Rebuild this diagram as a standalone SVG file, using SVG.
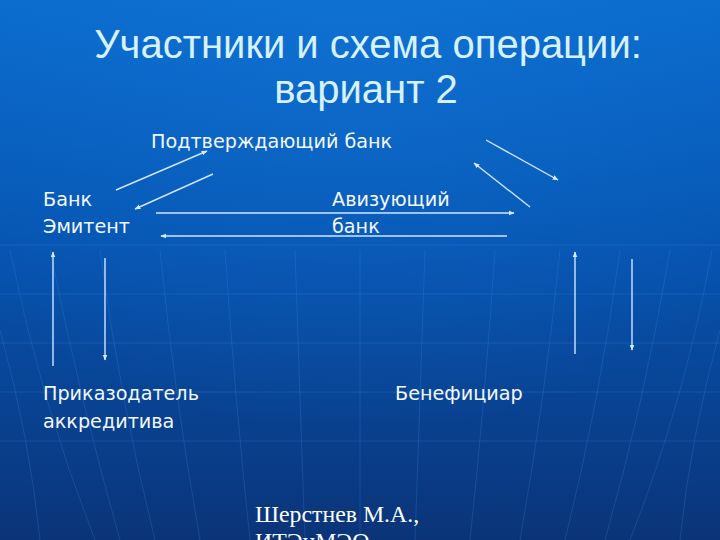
<svg xmlns="http://www.w3.org/2000/svg" width="720" height="540" viewBox="0 0 720 540">
<defs>
<linearGradient id="bg" x1="0" y1="0" x2="0" y2="1">
<stop offset="0" stop-color="#0a6bcd"/>
<stop offset="0.45" stop-color="#0654b1"/>
<stop offset="1" stop-color="#0b3478"/>
</linearGradient>
<radialGradient id="glow" cx="0.5" cy="0.1" r="0.7">
<stop offset="0" stop-color="#1a80e0" stop-opacity="0.3"/>
<stop offset="1" stop-color="#1a80e0" stop-opacity="0"/>
</radialGradient>
<marker id="ah" viewBox="0 0 10 10" refX="9" refY="5" markerWidth="6" markerHeight="6" orient="auto" markerUnits="userSpaceOnUse">
<path d="M0,1 L10,5 L0,9 z" fill="#d4ecff"/>
</marker>
</defs>
<style>
.lbl{font-family:"DejaVu Sans",Verdana,sans-serif;font-size:19.2px;fill:#f2f8ff}
.ttl{font-family:"Liberation Sans",Arial,sans-serif;font-size:40px;fill:#d6f1ff;text-anchor:middle}
.foot{font-family:"Liberation Serif","Times New Roman",serif;font-size:23.8px;fill:#ffffff}
.grid{stroke:#3d8ae6;stroke-opacity:0.25;stroke-width:1;fill:none}
.c{stroke:#cfe6ff;stroke-width:1.4;fill:none;marker-end:url(#ah)}
</style>
<rect width="720" height="540" fill="url(#bg)"/>
<rect width="720" height="540" fill="url(#glow)"/>
<g id="background-grid">
<line class="grid" x1="0" y1="245" x2="720" y2="245"/>
<line class="grid" x1="0" y1="294" x2="720" y2="294"/>
<line class="grid" x1="0" y1="343" x2="720" y2="343"/>
<line class="grid" x1="0" y1="392" x2="720" y2="392"/>
<line class="grid" x1="0" y1="441" x2="720" y2="441"/>
<path class="grid" d="M10,250 Q40,400 95,540"/>
<path class="grid" d="M50,250 Q80,400 120,540"/>
<path class="grid" d="M100,250 Q120,400 155,540"/>
<path class="grid" d="M160,250 Q175,400 200,540"/>
<path class="grid" d="M225,250 Q235,400 250,540"/>
<path class="grid" d="M295,250 Q300,400 305,540"/>
<path class="grid" d="M360,250 L360,540"/>
<path class="grid" d="M425,250 Q420,400 415,540"/>
<path class="grid" d="M495,250 Q485,400 470,540"/>
<path class="grid" d="M560,250 Q545,400 520,540"/>
<path class="grid" d="M620,250 Q600,400 565,540"/>
<path class="grid" d="M670,250 Q645,400 605,540"/>
<path class="grid" d="M712,250 Q685,400 630,540"/>
<path class="grid" d="M0,330 Q30,440 40,540"/>
<path class="grid" d="M720,330 Q690,440 680,540"/>
</g>
<g id="title">
<text class="ttl" x="368" y="58">Участники и схема операции:</text>
<text class="ttl" x="366" y="103">вариант 2</text>
</g>
<g id="confirming-bank"><text class="lbl" x="151" y="148">Подтверждающий банк</text></g>
<g id="issuing-bank"><text class="lbl" x="43" y="206">Банк</text><text class="lbl" x="43" y="233">Эмитент</text></g>
<g id="advising-bank"><text class="lbl" x="332" y="206">Авизующий</text><text class="lbl" x="332" y="233">банк</text></g>
<g id="applicant"><text class="lbl" x="43" y="400">Приказодатель</text><text class="lbl" x="43" y="428">аккредитива</text></g>
<g id="beneficiary"><text class="lbl" x="395" y="400">Бенефициар</text></g>
<g id="connectors">
<line class="c" x1="116" y1="190" x2="207" y2="151"/>
<line class="c" x1="213" y1="174" x2="135" y2="209"/>
<line class="c" x1="486" y1="140" x2="558" y2="180"/>
<line class="c" x1="530" y1="207" x2="474" y2="163"/>
<line class="c" x1="156" y1="213" x2="514" y2="213"/>
<line class="c" x1="507" y1="236" x2="161" y2="236"/>
<line class="c" x1="53" y1="366" x2="53" y2="252"/>
<line class="c" x1="105" y1="258" x2="105" y2="360"/>
<line class="c" x1="575" y1="354" x2="575" y2="252"/>
<line class="c" x1="632" y1="259" x2="632" y2="350"/>
</g>
<g id="footer">
<text class="foot" x="255" y="522">Шерстнев М.А.,</text>
<text class="foot" x="255" y="549">ИТЭиМЭО</text>
</g>
</svg>
